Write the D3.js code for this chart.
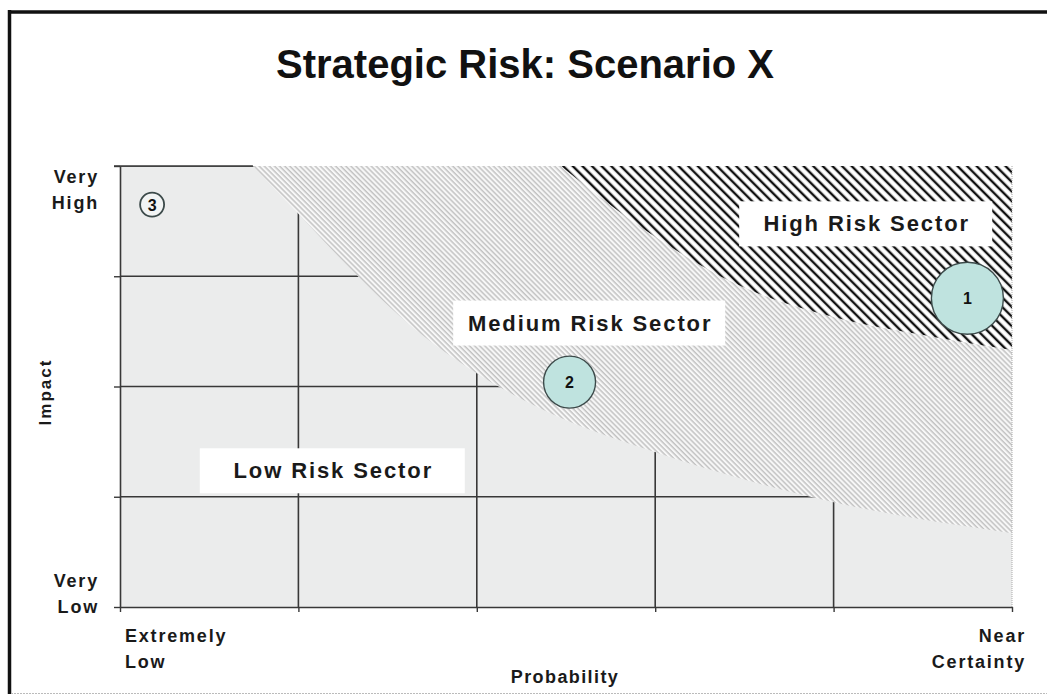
<!DOCTYPE html>
<html>
<head>
<meta charset="utf-8">
<script src="https://cdn.jsdelivr.net/npm/d3@7"></script>
<style>
  body { margin: 0; background: #fff; }
  svg { display: block; font-family: "Liberation Sans", Arial, sans-serif; }
</style>
</head>
<body>
<svg width="1047" height="696"></svg>
<script>
// data
const probLabels = ["Extremely\nLow", "Near\nCertainty"];
const impactLabels = ["Very\nLow", "Very\nHigh"];
const probCols = [0, 1, 2, 3, 4, 5];
const impactRows = [0, 1, 2, 3, 4];

// boundary between low and medium sectors
const lowEdgeX = [0.745, 0.98, 1.29, 1.66, 1.99, 2.41, 2.99, 4.0, 5.0];
const lowEdgeY = [4.0, 3.6, 3.07, 2.51, 2.13, 1.76, 1.41, 0.95, 0.67];
// boundary between medium and high sectors
const highEdgeX = [2.47, 2.97, 3.44, 4.0, 4.56, 5.0];
const highEdgeY = [4.0, 3.39, 2.94, 2.63, 2.45, 2.33];

const riskIds = ["1", "2", "3"];
const riskProb = [4.75, 2.52, 0.18];
const riskImpact = [2.8, 2.04, 3.65];
const riskSize = [36, 26, 12];

const sectorNames = ["High Risk Sector", "Medium Risk Sector", "Low Risk Sector"];
const sectorProb = [4.18, 2.63, 1.19];
const sectorImpact = [3.48, 2.58, 1.24];
const sectorBoxW = [253, 272, 265];

let margin = {top: 166, left: 120},
    width = 892, height = 441;

var svg = d3.select('svg');

// outer frame
svg.append('line').attr('x1', 9).attr('x2', 1047).attr('y1', 12).attr('y2', 12)
    .attr('stroke', '#111').attr('stroke-width', 3.5);
svg.append('line').attr('x1', 9.5).attr('x2', 9.5).attr('y1', 10).attr('y2', 694)
    .attr('stroke', '#111').attr('stroke-width', 3.5);
svg.append('line').attr('x1', 11).attr('x2', 1047).attr('y1', 693.5).attr('y2', 693.5)
    .attr('stroke', '#bbb').attr('stroke-width', 1).attr('stroke-dasharray', '2,1');

svg.append('text')
    .attr('x', 525).attr('y', 78)
    .attr('text-anchor', 'middle')
    .attr('font-size', 40).attr('font-weight', 'bold')
    .attr('fill', '#111')
    .text('Strategic Risk: Scenario X');

var defs = svg.append('defs');
var medPat = defs.append('pattern').attr('id', 'medHatch')
    .attr('patternUnits', 'userSpaceOnUse')
    .attr('width', 3.6).attr('height', 10)
    .attr('patternTransform', 'rotate(-45)');
medPat.append('rect').attr('width', 3.6).attr('height', 10).attr('fill', '#f7f7f7');
medPat.append('line').attr('x1', 1).attr('x2', 1).attr('y1', 0).attr('y2', 10)
    .attr('stroke', '#969696').attr('stroke-width', 0.85);

var highPat = defs.append('pattern').attr('id', 'highHatch')
    .attr('patternUnits', 'userSpaceOnUse')
    .attr('width', 6.8).attr('height', 10)
    .attr('patternTransform', 'rotate(-45)');
highPat.append('rect').attr('width', 6.8).attr('height', 10).attr('fill', '#fff');
highPat.append('line').attr('x1', 2).attr('x2', 2).attr('y1', 0).attr('y2', 10)
    .attr('stroke', '#111').attr('stroke-width', 2.4);

var x = d3.scaleLinear().domain([0, 5]).range([margin.left, margin.left + width]);
var y = d3.scaleLinear().domain([0, 4]).range([margin.top + height, margin.top]);

var line = d3.line().x(d => x(d[0])).y(d => y(d[1])).curve(d3.curveMonotoneX);

var lowPts = lowEdgeX.map((v, i) => [v, lowEdgeY[i]]);
var highPts = highEdgeX.map((v, i) => [v, highEdgeY[i]]);

// medium sector covers the plot
svg.append('rect')
    .attr('x', x(0)).attr('y', y(4))
    .attr('width', x(5) - x(0)).attr('height', y(0) - y(4))
    .attr('fill', 'url(#medHatch)');

// high sector
svg.append('path')
    .attr('d', line(highPts) + `L${x(5)},${y(4)}Z`)
    .attr('fill', 'url(#highHatch)');

// low sector
var lowD = `M${x(0)},${y(0)}L${x(0)},${y(4)}` + line(lowPts).replace(/^M/, 'L') + `L${x(5)},${y(0)}Z`;
defs.append('clipPath').attr('id', 'lowClip').append('path').attr('d', lowD);
svg.append('path').attr('d', lowD).attr('fill', '#ebecec');

svg.append('line')
    .attr('x1', x(5)).attr('x2', x(5)).attr('y1', y(4)).attr('y2', y(0))
    .attr('stroke', '#aaa').attr('stroke-width', 1).attr('stroke-dasharray', '1,1');

// grid clipped to low sector
var grid = svg.append('g').attr('clip-path', 'url(#lowClip)');
grid.selectAll('.hg').data(impactRows.slice(1)).enter().append('line')
    .attr('x1', x(0)).attr('x2', x(5))
    .attr('y1', d => y(d)).attr('y2', d => y(d))
    .attr('stroke', '#383838').attr('stroke-width', 1.6);
grid.selectAll('.vg').data(probCols.slice(1, 5)).enter().append('line')
    .attr('x1', d => x(d)).attr('x2', d => x(d))
    .attr('y1', y(4)).attr('y2', y(0))
    .attr('stroke', '#383838').attr('stroke-width', 1.6);

// axes
var yAxis = d3.axisLeft(y).tickValues(impactRows).tickFormat('').tickSize(6).tickSizeOuter(0);
var xAxis = d3.axisBottom(x).tickValues(probCols).tickFormat('').tickSize(5).tickSizeOuter(0);
var ya = svg.append('g').attr('transform', `translate(${x(0)},0)`).call(yAxis);
var xa = svg.append('g').attr('transform', `translate(0,${y(0)})`).call(xAxis);
[ya, xa].forEach(g => {
    g.select('.domain').attr('stroke', '#383838').attr('stroke-width', 1.6);
    g.selectAll('.tick line').attr('stroke', '#383838').attr('stroke-width', 1.4);
});
// top edge line of the low sector
svg.append('line')
    .attr('x1', x(0) - 6).attr('x2', x(lowEdgeX[0]))
    .attr('y1', y(4)).attr('y2', y(4))
    .attr('stroke', '#383838').attr('stroke-width', 1.6);

// sector labels
sectorNames.forEach((name, i) => {
    var cx = x(sectorProb[i]), cy = y(sectorImpact[i]);
    svg.append('rect')
        .attr('x', cx - sectorBoxW[i] / 2).attr('y', cy - 22)
        .attr('width', sectorBoxW[i]).attr('height', 45)
        .attr('fill', '#fff');
    svg.append('text')
        .attr('x', cx + 1).attr('y', cy + 8)
        .attr('text-anchor', 'middle')
        .attr('font-size', 22).attr('font-weight', 'bold')
        .attr('letter-spacing', 1.9)
        .attr('fill', '#1a1a1a')
        .text(name);
});

// risk bubbles
riskIds.forEach((id, i) => {
    var cx = x(riskProb[i]), cy = y(riskImpact[i]);
    var small = riskSize[i] < 20;
    svg.append('circle')
        .attr('cx', cx).attr('cy', cy).attr('r', riskSize[i])
        .attr('fill', small ? '#f2f4f4' : '#bfe3df')
        .attr('stroke', '#3c4a4a').attr('stroke-width', small ? 1.8 : 1.4);
    svg.append('text')
        .attr('x', cx).attr('y', cy + 6)
        .attr('text-anchor', 'middle')
        .attr('font-size', 16).attr('font-weight', 'bold')
        .attr('fill', '#111')
        .text(id);
});

// tick labels
function multiline(str, x0, y0, anchor) {
    var t = svg.append('text')
        .attr('x', x0).attr('y', y0)
        .attr('text-anchor', anchor)
        .attr('font-size', 18).attr('font-weight', 'bold')
        .attr('letter-spacing', 1.8)
        .attr('fill', '#1a1a1a');
    str.split('\n').forEach((s, k) => {
        t.append('tspan').attr('x', x0).attr('dy', k ? 26 : 0).text(s);
    });
}
multiline(impactLabels[1], 99, 183, 'end');
multiline(impactLabels[0], 99, 587, 'end');
multiline(probLabels[0], 125, 642, 'start');
multiline(probLabels[1], 1026, 642, 'end');

svg.append('text')
    .attr('x', 565).attr('y', 683)
    .attr('text-anchor', 'middle')
    .attr('font-size', 18).attr('font-weight', 'bold')
    .attr('letter-spacing', 1.4)
    .attr('fill', '#1a1a1a')
    .text('Probability');

svg.append('text')
    .attr('transform', `translate(51,392) rotate(-90)`)
    .attr('text-anchor', 'middle')
    .attr('font-size', 17).attr('font-weight', 'bold')
    .attr('letter-spacing', 2)
    .attr('fill', '#1a1a1a')
    .text('Impact');
</script>
</body>
</html>
